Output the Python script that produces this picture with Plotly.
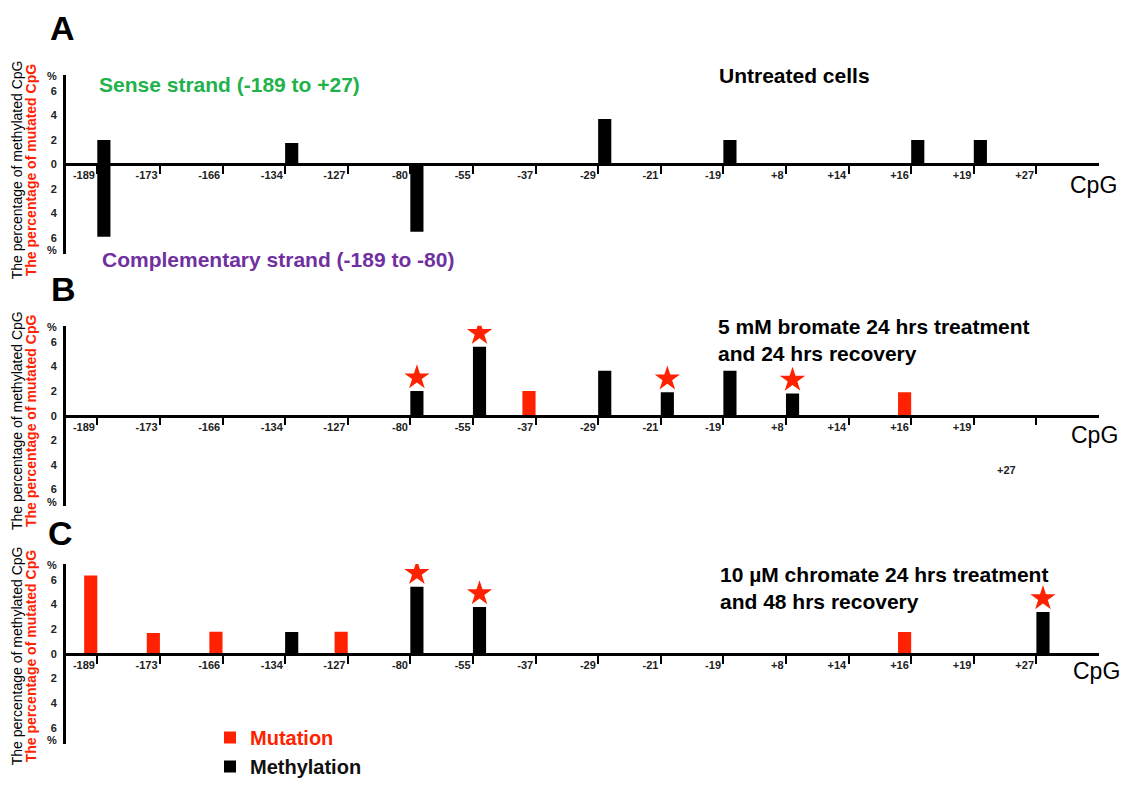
import plotly.graph_objects as go

W, H = 1128, 786

# ---------------- data ----------------
cpg_sites = ["-189", "-173", "-166", "-134", "-127", "-80", "-55", "-37",
             "-29", "-21", "-19", "+8", "+14", "+16", "+19", "+27"]

# Panel A: untreated cells (sense strand up, complementary strand down)
A_sense_sites = ["-189", "-134", "-29", "-19", "+16", "+19"]
A_sense_values = [2.0, 1.75, 3.7, 2.0, 2.0, 2.0]
A_compl_sites = ["-189", "-80"]
A_compl_values = [5.9, 5.5]

# Panel B: 5 mM bromate
B_mut_sites = ["-37", "+16"]
B_mut_values = [2.0, 1.9]
B_meth_sites = ["-80", "-55", "-29", "-21", "-19", "+8"]
B_meth_values = [2.0, 5.6, 3.65, 1.9, 3.65, 1.8]
B_star_sites = ["-80", "-55", "-21", "+8"]

# Panel C: 10 uM chromate
C_mut_sites = ["-189", "-173", "-166", "-127", "+16"]
C_mut_values = [6.35, 1.7, 1.8, 1.8, 1.77]
C_meth_sites = ["-134", "-80", "-55", "+27"]
C_meth_values = [1.77, 5.45, 3.8, 3.4]
C_star_sites = ["-80", "-55", "+27"]

y_tick_vals = [-7.0, -6, -4, -2, 0, 2, 4, 6, 7.2]
y_tick_text = ["%", "6", "4", "2", "0", "2", "4", "6", "%"]

# ---------------- style ----------------
RED = "#ff2200"
BLACK = "#000000"
GREEN = "#22b24c"
PURPLE = "#7030a0"
FONT = "Liberation Sans, Arial, sans-serif"
BW = 0.21          # bar width in category units
STAR_GAP = 1.1     # star distance above bar top (data units)

pos = {s: i for i, s in enumerate(cpg_sites)}


def fx(px):
    return px / W


def fy(py):
    return 1 - py / H


panels = [
    dict(ytop=72, ybot=256),
    dict(ytop=330, ybot=515),
    dict(ytop=575, ybot=760),
]
YR = [-7.3, 7.3]
XR = [-0.5, 16.0]

fig = go.Figure()


def add_bars(sites, values, k, color, offset, sign=1, name=None, show=False):
    fig.add_trace(go.Bar(
        x=[pos[s] for s in sites], y=[sign * v for v in values],
        width=BW, offset=offset, marker=dict(color=color, line=dict(width=0)),
        xaxis="x" if k == 1 else f"x{k}", yaxis="y" if k == 1 else f"y{k}",
        name=name, showlegend=show, hoverinfo="skip",
    ))


def add_stars(star_sites, sites, values, k):
    vmap = dict(zip(sites, values))
    fig.add_trace(go.Scatter(
        x=[pos[s] + BW / 2 for s in star_sites],
        y=[vmap[s] + STAR_GAP for s in star_sites],
        mode="markers", marker=dict(symbol="star", size=19, color=RED, line=dict(width=0)),
        xaxis="x" if k == 1 else f"x{k}", yaxis="y" if k == 1 else f"y{k}",
        showlegend=False, hoverinfo="skip",
    ))


# Panel A
add_bars(A_sense_sites, A_sense_values, 1, BLACK, 0)
add_bars(A_compl_sites, A_compl_values, 1, BLACK, 0, sign=-1)
# Panel B
add_bars(B_mut_sites, B_mut_values, 2, RED, -BW)
add_bars(B_meth_sites, B_meth_values, 2, BLACK, 0)
add_stars(B_star_sites, B_meth_sites, B_meth_values, 2)
# Panel C
add_bars(C_mut_sites, C_mut_values, 3, RED, -BW,
         name="<b><span style='color:%s'>Mutation</span></b>" % RED, show=True)
add_bars(C_meth_sites, C_meth_values, 3, BLACK, 0,
         name="<b>Methylation</b>", show=True)
add_stars(C_star_sites, C_meth_sites, C_meth_values, 3)

layout = dict(
    width=W, height=H, margin=dict(l=0, r=0, t=0, b=0),
    paper_bgcolor="white", plot_bgcolor="white",
    barmode="overlay", font=dict(family=FONT, color="#111"),
    legend=dict(x=fx(210), y=fy(734), xanchor="left", yanchor="top",
                bgcolor="rgba(0,0,0,0)", font=dict(size=20, family=FONT, color="#111"),
                traceorder="normal", tracegroupgap=0, itemwidth=30),
)

for k, p in enumerate(panels, start=1):
    xa = "xaxis" if k == 1 else f"xaxis{k}"
    ya = "yaxis" if k == 1 else f"yaxis{k}"
    d0, d1 = fy(p["ybot"]), fy(p["ytop"])
    zero_pos = d0 + (0 - YR[0]) / (YR[1] - YR[0]) * (d1 - d0)
    ticktext = list(cpg_sites)
    if k == 2:
        ticktext[-1] = "<br><br><br>+27" + "\u00a0" * 6
    layout[xa] = dict(
        domain=[fx(66), fx(1099)], range=XR, anchor="free", position=zero_pos,
        showline=True, linecolor=BLACK, linewidth=2.5, showgrid=False, zeroline=False,
        tickmode="array", tickvals=list(range(len(cpg_sites))), ticktext=ticktext,
        ticks="outside", ticklen=8, tickwidth=2.2, tickcolor=BLACK,
        ticklabelposition="outside left",
        tickfont=dict(size=11, family=FONT, color="#222", weight="bold"),
        fixedrange=True,
    )
    layout[ya] = dict(
        domain=[d0, d1], range=YR, anchor="x" if k == 1 else f"x{k}",
        showline=True, linecolor=BLACK, linewidth=3, showgrid=False, zeroline=False,
        tickmode="array", tickvals=y_tick_vals, ticktext=y_tick_text,
        ticks="outside", ticklen=4, tickcolor="rgba(0,0,0,0)",
        tickfont=dict(size=11, family=FONT, color="#222", weight="bold"),
        fixedrange=True,
    )

fig.update_layout(**layout)

ann = []


def text(x, y, s, size, color=BLACK, bold=True, xanchor="left", yanchor="middle", angle=0):
    ann.append(dict(
        x=fx(x), y=fy(y), xref="paper", yref="paper", text=("<b>%s</b>" % s) if bold else s,
        showarrow=False, xanchor=xanchor, yanchor=yanchor, textangle=angle,
        font=dict(size=size, color=color, family=FONT), align="left",
    ))


# panel letters
text(62, 24, "A", 34, xanchor="center")
text(63, 292, "B", 34, xanchor="center")
text(60, 543, "C", 34, xanchor="center")

# y-axis titles
for yc in (170, 428, 670):
    text(17, yc, "The percentage of methylated CpG", 14, color=BLACK, bold=False, xanchor="center", angle=-90)
    text(31, yc, "The percentage of mutated CpG", 14, color=RED, bold=True, xanchor="center", angle=-90)

# panel texts
text(97, 82, "Sense strand (-189 to +27)", 21, color=GREEN)
text(100, 262, "Complementary strand (-189 to -80)", 21, color=PURPLE)
text(717, 73, "Untreated cells", 21)
text(716, 345, "5 mM bromate 24 hrs treatment<br>and 24 hrs recovery", 21)
text(718, 600, "10 µM chromate 24 hrs treatment<br>and 48 hrs recovery", 21)

# CpG axis labels
text(1068, 185, "CpG", 23, bold=False)
text(1069, 442, "CpG", 23, bold=False)
text(1071, 685, "CpG", 23, bold=False)

fig.update_layout(annotations=ann)
fig.write_html(
    "out.html",
    config={"displayModeBar": False},
    post_script="document.body.style.margin='0';document.body.style.overflow='hidden';",
)
